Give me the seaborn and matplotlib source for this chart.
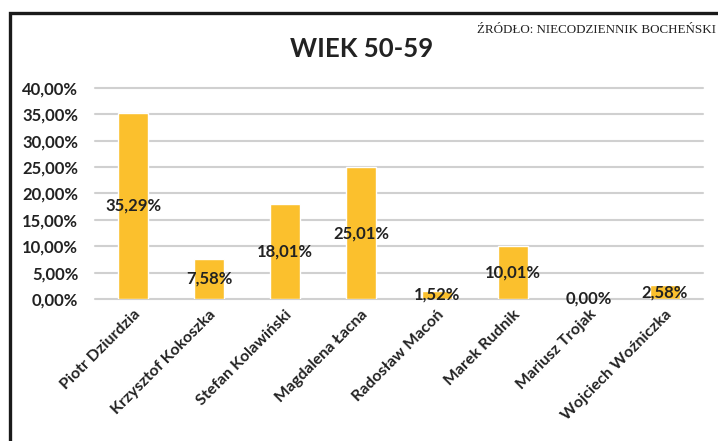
import matplotlib
matplotlib.use("Agg")
import matplotlib.pyplot as plt
import seaborn as sns
from matplotlib.patches import Rectangle

# dane
kandydaci = ["Piotr Dziurdzia", "Krzysztof Kokoszka", "Stefan Kolawiński",
             "Magdalena Łacna", "Radosław Macoń", "Marek Rudnik",
             "Mariusz Trojak", "Wojciech Woźniczka"]
procenty = [35.29, 7.58, 18.01, 25.01, 1.52, 10.01, 0.00, 2.58]
y_ticks = [0, 5, 10, 15, 20, 25, 30, 35, 40]

tytul = "WIEK 50-59"
zrodlo = "ŹRÓDŁO: NIECODZIENNIK BOCHEŃSKI"

sns.set_style("white")
plt.rcParams["font.family"] = ["Lato", "DejaVu Sans"]

zolty = "#FBC02D"
tekst = "#222222"

fig = plt.figure(figsize=(7.18, 4.41), dpi=100)
ax = fig.add_axes([95 / 718, (441 - 299) / 441, (703 - 95) / 718, (299 - 88) / 441])

sns.barplot(x=kandydaci, y=procenty, color=zolty, width=0.4, saturation=1, ax=ax, zorder=3)

ax.set_ylim(0, 40)
ax.set_xlim(-0.5, len(kandydaci) - 0.5)
ax.set_yticks(y_ticks)
ax.set_yticklabels([f"{v:.2f}".replace(".", ",") + "%" for v in y_ticks],
                   fontsize=12, fontweight="bold", color=tekst)
ax.yaxis.grid(True, color="#d0d0d0", linewidth=1.5, clip_on=False)
ax.set_axisbelow(True)
for s in ax.spines.values():
    s.set_visible(False)
ax.tick_params(axis="y", length=0, pad=12)
ax.tick_params(axis="x", length=0, pad=6)

ax.set_xticks(range(len(kandydaci)))
ax.set_xticklabels(kandydaci, rotation=45, ha="right", rotation_mode="anchor",
                   fontsize=11.5, fontweight="bold", color=tekst)

ax.bar_label(ax.containers[0], labels=[f"{v:.2f}".replace(".", ",") + "%" for v in procenty],
             label_type="center", fontsize=12, fontweight="bold", color=tekst, zorder=5)

fig.text(362 / 718, 1 - 49 / 441, tytul, ha="center", va="center",
         fontsize=18.5, fontweight="bold", color=tekst)
fig.text(716 / 718, 1 - 30 / 441, zrodlo, ha="right", va="center",
         fontsize=9.4, family="Liberation Serif", color="#222222")

# ramka
fig.patches.append(Rectangle((10 / 718, -0.05), 1.2, (441 - 13) / 441 + 0.05,
                             transform=fig.transFigure, fill=False,
                             edgecolor="#1a1a1a", linewidth=2.4, clip_on=False))

fig.savefig("out.png", dpi=100, facecolor="white")
